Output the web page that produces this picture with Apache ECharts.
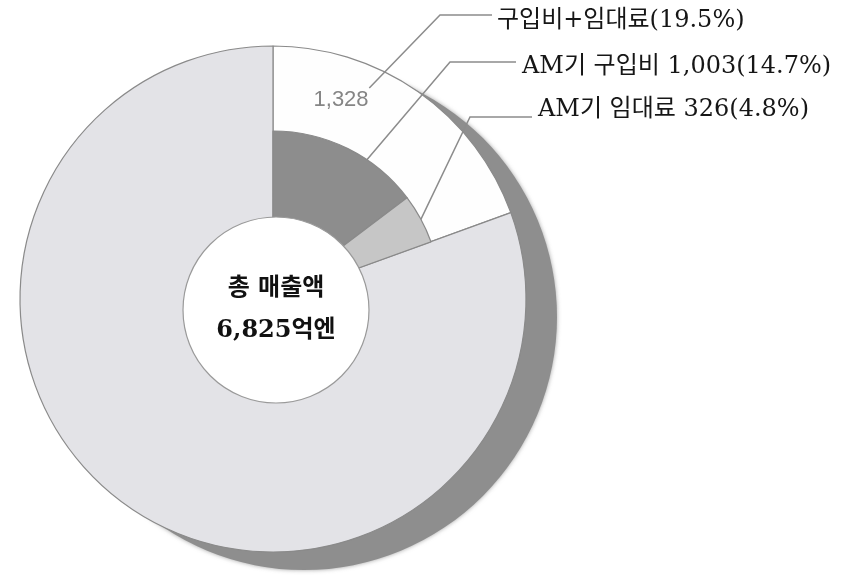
<!DOCTYPE html>
<html>
<head>
<meta charset="utf-8">
<script src="https://cdn.jsdelivr.net/npm/echarts@6/dist/echarts.min.js"></script>
<style>
  html, body { margin: 0; padding: 0; background: #ffffff; }
  #chart { width: 863px; height: 580px; }
</style>
</head>
<body>
<div id="chart"></div>
<script>
// Sales breakdown (억엔)
const totalSales = 6825;
const totalLabel = '총 매출액';
const totalUnit = '억엔';

// Outer ring: purchase + lease vs. the rest
const outerNames = ['구입비+임대료', '기타'];
const outerValues = [1328, totalSales - 1328];

// Inner ring: AM purchase, AM lease, rest
const innerNames = ['AM기 구입비', 'AM기 임대료', '기타'];
const innerValues = [1003, 326, totalSales - 1003 - 326];

// ---- layout ----
const CENTER = [273, 299];
const R_OUT = 253;
const R_MID = 168;
const HOLE_CENTER = [276, 310];
const R_HOLE = 93;
const SHADOW_CENTER = [304, 317];

const FONT_LABEL = '"DejaVu Serif", "Noto Sans CJK KR", serif';
const FONT_CJK = '"DejaVu Serif", "Noto Sans CJK KR", sans-serif';

const fmt = v => v.toLocaleString('en-US');
const pct = (v, arr) => (v / arr.reduce((a, b) => a + b, 0) * 100).toFixed(1);

// angle (deg, clockwise from 12 o'clock) at a fraction through item i
function angleAt(values, i, frac) {
  const total = values.reduce((a, b) => a + b, 0);
  let start = 0;
  for (let k = 0; k < i; k++) start += values[k];
  return (start + values[i] * frac) / total * 360;
}
function polar(r, deg) {
  const a = deg * Math.PI / 180;
  return [CENTER[0] + r * Math.sin(a), CENTER[1] - r * Math.cos(a)];
}

const LIGHT = '#e3e3e7';
const EDGE = '#8a8a8a';
const LEADER = { color: '#8c8c8c', width: 1.5 };

// callout placement: text anchor, elbow, anchor inside the sector
const callouts = {
  outer: { 0: { text: [497, 21], elbow: [440, 15], end: [492, 15], r: 232, frac: 0.35 } },
  inner: {
    0: { text: [522, 67], elbow: [450, 62], end: [516, 62], r: 142, frac: 0.62 },
    1: { text: [538, 110], elbow: [470, 117], end: [532, 117], r: 155, frac: 0.72 }
  }
};

function calloutLayout(group, values) {
  return function (params) {
    const c = callouts[group][params.dataIndex];
    if (!c) return {};
    const anchor = polar(c.r, angleAt(values, params.dataIndex, c.frac));
    return {
      x: c.text[0], y: c.text[1], align: 'left', verticalAlign: 'middle',
      labelLinePoints: [anchor, c.elbow, c.end]
    };
  };
}

const chart = echarts.init(document.getElementById('chart'), null, { renderer: 'canvas' });

chart.setOption({
  backgroundColor: '#ffffff',
  animation: false,
  series: [
    // drop shadow behind the ring
    {
      type: 'pie', z: 1, silent: true, center: SHADOW_CENTER, radius: [0, R_OUT],
      label: { show: false }, labelLine: { show: false },
      itemStyle: { color: '#8e8e8e', borderWidth: 0, shadowBlur: 4, shadowColor: 'rgba(140,140,140,0.8)' },
      data: [{ value: totalSales, name: 'shadow' }]
    },
    // outer ring
    {
      type: 'pie', z: 2, silent: true, center: CENTER, radius: [0, R_OUT],
      startAngle: 90, clockwise: true, avoidLabelOverlap: false,
      itemStyle: { borderColor: EDGE, borderWidth: 1.2 },
      label: {
        show: true, position: 'inside', color: '#858585', fontSize: 22,
        fontFamily: '"Liberation Sans", Arial, sans-serif',
        formatter: p => fmt(p.value)
      },
      labelLayout: function (params) {
        if (params.dataIndex !== 0) return {};
        const pt = polar(210, angleAt(outerValues, 0, 0.27));
        return { x: pt[0], y: pt[1], align: 'center', verticalAlign: 'middle' };
      },
      data: [
        { value: outerValues[0], name: outerNames[0], itemStyle: { color: '#fefefe' } },
        { value: outerValues[1], name: outerNames[1], itemStyle: { color: LIGHT }, label: { show: false } }
      ]
    },
    // outer ring callout
    {
      type: 'pie', z: 5, silent: true, center: CENTER, radius: [R_MID, R_OUT],
      startAngle: 90, clockwise: true, avoidLabelOverlap: false,
      itemStyle: { color: 'rgba(0,0,0,0)', borderWidth: 0 },
      label: {
        show: true, position: 'outside', color: '#161616', fontSize: 24, fontFamily: FONT_LABEL,
        formatter: p => `${p.name}(${pct(p.value, outerValues)}%)`
      },
      labelLine: { show: true, lineStyle: LEADER },
      labelLayout: calloutLayout('outer', outerValues),
      data: [
        { value: outerValues[0], name: outerNames[0] },
        { value: outerValues[1], name: outerNames[1], label: { show: false }, labelLine: { show: false } }
      ]
    },
    // inner ring
    {
      type: 'pie', z: 3, silent: true, center: CENTER, radius: [0, R_MID],
      startAngle: 90, clockwise: true, avoidLabelOverlap: false,
      itemStyle: { borderColor: EDGE, borderWidth: 1.2 },
      label: {
        show: true, position: 'outside', color: '#161616', fontSize: 24, fontFamily: FONT_LABEL,
        formatter: p => `${p.name} ${fmt(p.value)}(${pct(p.value, innerValues)}%)`
      },
      labelLine: { show: true, lineStyle: LEADER },
      labelLayout: calloutLayout('inner', innerValues),
      data: [
        { value: innerValues[0], name: innerNames[0], itemStyle: { color: '#8d8d8d' } },
        { value: innerValues[1], name: innerNames[1], itemStyle: { color: '#c6c6c6' } },
        { value: innerValues[2], name: innerNames[2],
          itemStyle: { color: 'rgba(0,0,0,0)', borderWidth: 0 },
          label: { show: false }, labelLine: { show: false } }
      ]
    },
    // centre hole with the total
    {
      type: 'pie', z: 4, silent: true, center: HOLE_CENTER, radius: [0, R_HOLE],
      itemStyle: { color: '#ffffff', borderColor: '#9a9a9a', borderWidth: 1.2 },
      label: {
        show: true, position: 'center', color: '#111111', fontSize: 24, fontWeight: 'bold',
        fontFamily: FONT_CJK, lineHeight: 42,
        formatter: () => `${totalLabel.slice(0, 1)} ${totalLabel.slice(2)}\n${fmt(totalSales)}${totalUnit}`
      },
      labelLine: { show: false },
      data: [{ value: totalSales, name: totalLabel }]
    }
  ]
});
</script>
</body>
</html>
